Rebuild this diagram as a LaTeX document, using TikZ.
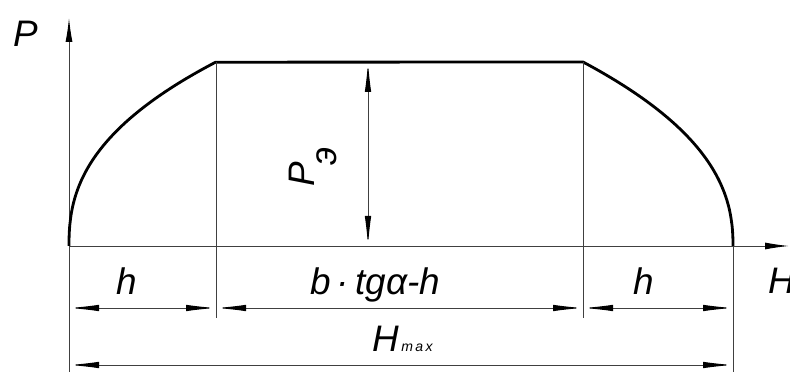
\documentclass[tikz,border=0pt]{standalone}
\usepackage{fontspec}
\setmainfont{Liberation Sans}
\usetikzlibrary{arrows.meta}

\begin{document}
\begin{tikzpicture}[
    x=0.2mm, y=-0.2mm,
    font=\fontsize{21}{21}\selectfont\itshape,
    thinline/.style={draw=black!75, line width=0.55pt},
    curve/.style={draw=black, line width=1.6pt, line join=round},
    dim/.style={thinline,
        {Latex[length=6mm,width=1.3mm,color=black]}-{Latex[length=6mm,width=1.3mm,color=black]}},
    axis/.style={thinline, -{Latex[length=4.8mm,width=1.4mm,color=black]}},
    lbl/.style={inner sep=0pt, anchor=base west}
]
\useasboundingbox (0,0) rectangle (790,372);

% corner points of the curve
\coordinate (O) at (69,246);
\coordinate (A) at (216,62);
\coordinate (B) at (583,62);
\coordinate (C) at (733,246);

% axes
\coordinate (Pbot) at (69,372);
\coordinate (Ptop) at (69,18);
\coordinate (Hend) at (789,246);
\draw[axis] (Pbot) -- (Ptop);
\draw[axis] (O) -- (Hend);

% the curve
\draw[curve] (O) -- plot[domain=0.002:1, samples=80] ({69+147*\x^2.4}, {246-184*\x})
    -- (B) -- plot[domain=1:0.002, samples=80] ({733-150*\x^2.3}, {246-184*\x}) -- (C);

% extension lines
\coordinate (Aext) at (216,318);
\coordinate (Bext) at (583,318);
\coordinate (Cext) at (733,372);
\draw[thinline] (A) -- (Aext);
\draw[thinline] (B) -- (Bext);
\draw[thinline] (C) -- (Cext);

% dimensions
\foreach \a/\b [count=\i] in {69/216, 216/583, 583/733}{
  \coordinate (d\i l) at (\a,308);
  \coordinate (d\i r) at (\b,308);
  \draw[dim] (d\i l) -- (d\i r);
}
\coordinate (mxl) at (69,365);
\coordinate (mxr) at (733,365);
\draw[dim] (mxl) -- (mxr);
\coordinate (pet) at (368,62);
\coordinate (peb) at (368,246);
\draw[dim] (pet) -- (peb);

% labels
\node[lbl] (lP)   at (13,47)   {P};
\node[lbl] (lH)   at (768,294) {H};
\node[lbl] (lh1)  at (116,295) {h};
\node[lbl] (lbt)  at (310,295) {b\,·\,tgα-h};
\node[lbl] (lh2)  at (633,295) {h};
\node[lbl] (lHm)  at (372,352) {H{\fontsize{8}{8}\selectfont\,m\,a\,x}};
\node[rotate=90, inner sep=0pt] (lPe) at (313,167)
    {P\kern-0.12em\raisebox{-0.62em}{э}};
\end{tikzpicture}
\end{document}
